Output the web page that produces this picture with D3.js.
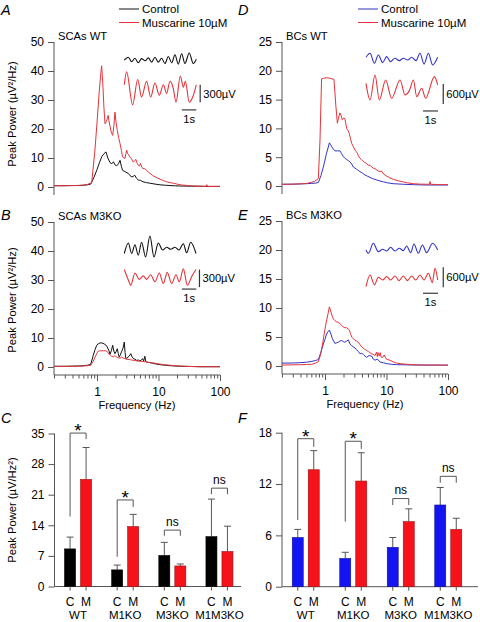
<!DOCTYPE html>
<html><head><meta charset="utf-8">
<script src="https://cdn.jsdelivr.net/npm/d3@7"></script>
<style>body{margin:0;background:#fff}svg{display:block}</style>
</head><body><svg id="c" width="480" height="622"></svg>
<script>
// ---------------- DATA ----------------
const freqDomain = [0.2, 100];
const freqMajorTicks = [1, 10, 100];
const freqMinorTicks = [0.2,0.3,0.4,0.5,0.6,0.7,0.8,0.9,2,3,4,5,6,7,8,9,20,30,40,50,60,70,80,90];
const scaPowerTicks = [0, 10, 20, 30, 40, 50];
const bcPowerTicks = [0, 5, 10, 15, 20, 25];

// [frequency Hz, peak power µV²/Hz]
const scaWTControl = [[0.2,0.45],[0.3,0.45],[0.4,0.5],[0.5,0.5],[0.6,0.6],[0.7,0.75],[0.79,1.0],[0.9,3.5],[1.0,6],[1.1,8.5],[1.2,10.5],[1.3,11.5],[1.4,12.1],[1.5,10],[1.63,8.4],[1.74,8.0],[1.85,8.7],[1.97,7.6],[2.09,7.3],[2.23,8.0],[2.37,9.2],[2.5,7],[2.6,5.8],[2.85,5.3],[3.2,4.7],[3.4,4.2],[3.6,3.5],[3.85,3.6],[4.1,4.1],[4.4,3.0],[4.7,2.4],[5.1,2.3],[5.6,1.8],[6.4,1.5],[7.3,1.3],[8.8,1.0],[10.6,0.75],[13,0.6],[15.4,0.5],[19,0.4],[22,0.35],[30,0.3],[47,0.25],[70,0.2],[100,0.2]];
const scaWTMuscarine = [[0.2,0.45],[0.3,0.45],[0.4,0.5],[0.5,0.55],[0.6,0.65],[0.7,0.9],[0.82,1.5],[0.92,12],[1.0,22],[1.08,32],[1.14,38],[1.19,41.8],[1.24,36],[1.3,27],[1.35,21.8],[1.41,22.5],[1.47,23.5],[1.52,24.7],[1.56,23],[1.63,20.9],[1.7,19],[1.8,17.8],[1.88,21],[1.96,25.8],[2.05,22],[2.14,19.5],[2.25,17],[2.37,15],[2.5,12.5],[2.6,10.4],[2.85,9.8],[2.95,11.5],[3.05,12.7],[3.15,11.5],[3.3,11],[3.45,10.2],[3.65,9.8],[3.8,8.8],[3.98,8.7],[4.15,9.2],[4.3,9.5],[4.5,8.2],[4.7,7.5],[4.9,7.2],[5.1,8.1],[5.35,6.8],[5.6,6.4],[6.0,6.3],[6.4,5.8],[6.9,5.0],[7.3,4.7],[8.0,4.0],[8.8,3.5],[9.6,3.1],[10.6,2.7],[12,2.2],[13.6,1.8],[15.5,1.5],[17.5,1.3],[20,1.0],[23.8,0.7],[30,0.5],[36.4,0.35],[50,0.25],[60,0.2],[61,0.8],[62,0.2],[80,0.2],[100,0.2]];
const scaKOControl = [[0.2,0.25],[0.3,0.25],[0.4,0.3],[0.5,0.35],[0.6,0.45],[0.7,0.6],[0.79,0.9],[0.87,4],[0.93,6],[0.99,7.5],[1.05,8.0],[1.12,8.3],[1.2,8.3],[1.3,8.0],[1.39,7.6],[1.47,6.9],[1.55,5.8],[1.63,4.4],[1.72,5.8],[1.8,7.5],[1.88,5.5],[1.96,4.6],[2.05,5.4],[2.14,6.3],[2.22,4.6],[2.3,3.4],[2.4,4.2],[2.5,5.2],[2.65,6.5],[2.78,8.6],[2.86,5],[2.95,2.9],[3.05,3.0],[3.2,3.4],[3.35,3.8],[3.55,4.6],[3.7,3.6],[3.9,2.9],[4.15,2.7],[4.4,2.3],[4.7,2.4],[5.0,2.1],[5.25,2.3],[5.5,2.9],[5.75,2.1],[6.0,3.7],[6.2,2.0],[6.4,1.7],[6.9,1.6],[7.3,1.5],[8.0,1.3],[8.8,1.1],[10.6,0.8],[13,0.6],[15.4,0.45],[22,0.25],[30,0.2],[47,0.1],[100,0.1]];
const scaKOMuscarine = [[0.2,0.2],[0.3,0.2],[0.4,0.25],[0.5,0.3],[0.6,0.35],[0.7,0.45],[0.79,0.6],[0.86,1.8],[0.93,3.4],[1.0,4.8],[1.05,5.5],[1.15,5.6],[1.27,5.6],[1.35,5.6],[1.43,5.5],[1.5,5.0],[1.58,4.4],[1.65,4.0],[1.73,3.7],[1.85,3.5],[1.96,3.9],[2.07,3.5],[2.2,3.2],[2.35,3.0],[2.5,3.4],[2.65,3.1],[2.85,2.9],[3.0,2.7],[3.2,2.6],[3.5,2.5],[3.9,2.3],[4.4,2.1],[5.0,2.0],[5.6,1.9],[6.4,1.7],[7.3,1.5],[8.2,1.4],[9.3,1.2],[10.6,1.0],[12.5,0.8],[15.4,0.6],[18,0.45],[22,0.35],[30,0.2],[47,0.1],[100,0.1]];
const bcWTControl = [[0.2,0.3],[0.3,0.32],[0.4,0.35],[0.5,0.4],[0.6,0.45],[0.7,0.5],[0.78,0.6],[0.86,1.8],[0.94,3.3],[1.0,4.5],[1.06,5.7],[1.12,6.6],[1.18,7.5],[1.23,7.2],[1.29,6.8],[1.37,6.4],[1.45,6.1],[1.6,6.1],[1.75,6.1],[1.87,5.6],[1.99,5.1],[2.12,4.8],[2.25,4.6],[2.4,4.4],[2.55,4.2],[2.72,3.8],[2.89,3.3],[3.08,3.1],[3.27,2.9],[3.48,2.7],[3.71,2.5],[4.1,2.2],[4.48,1.9],[4.9,1.7],[5.4,1.5],[5.9,1.3],[6.5,1.15],[7.1,1.0],[7.84,0.87],[8.9,0.72],[10.1,0.58],[11.4,0.48],[12.9,0.4],[15.5,0.35],[18.8,0.3],[27.3,0.23],[45,0.17],[100,0.17]];
const bcWTMuscarine = [[0.2,0.3],[0.3,0.32],[0.4,0.38],[0.5,0.45],[0.57,0.58],[0.68,0.8],[0.78,1.3],[0.83,8],[0.88,18.6],[0.95,18.7],[1.06,18.8],[1.2,18.7],[1.3,18.6],[1.4,18.5],[1.5,14],[1.59,10.9],[1.67,12],[1.75,12.7],[1.83,12.2],[1.91,11.5],[2.01,11.8],[2.11,11.7],[2.18,10.8],[2.25,10],[2.37,9.6],[2.49,9.1],[2.6,8.2],[2.72,7.4],[2.9,6.8],[3.08,6.2],[3.22,6.0],[3.36,5.7],[3.5,5.2],[3.71,4.8],[3.9,4.6],[4.1,4.4],[4.4,4.1],[4.76,3.9],[5.05,3.6],[5.4,3.6],[5.75,3.3],[6.1,3.1],[6.5,3.0],[6.93,2.8],[7.35,2.6],[7.84,2.5],[8.3,2.6],[8.9,2.1],[10.1,1.7],[11.4,1.4],[12.9,1.15],[15.5,0.9],[18.8,0.7],[22,0.55],[27.3,0.4],[36,0.32],[50,0.3],[51,0.8],[52,0.3],[70,0.25],[100,0.23]];
const bcKOControl = [[0.2,0.5],[0.3,0.52],[0.39,0.57],[0.5,0.65],[0.61,0.8],[0.7,0.95],[0.78,1.1],[0.86,2.4],[0.94,3.8],[1.0,4.6],[1.06,5.5],[1.12,5.9],[1.18,6.2],[1.25,5.5],[1.32,4.7],[1.45,3.9],[1.55,4.0],[1.65,4.1],[1.75,4.3],[1.87,4.4],[1.99,4.2],[2.11,4.1],[2.25,4.3],[2.4,4.5],[2.55,3.8],[2.72,3.5],[2.89,3.3],[3.08,3.1],[3.27,2.8],[3.48,2.5],[3.71,2.1],[3.95,2.2],[4.2,2.0],[4.48,1.7],[4.76,1.5],[5.2,1.8],[5.74,1.7],[6.1,1.2],[6.5,1.0],[7.1,1.2],[7.84,0.7],[8.9,0.55],[10.1,0.4],[12,0.3],[14.6,0.23],[20,0.2],[27.3,0.17],[50,0.15],[100,0.15]];
const bcKOMuscarine = [[0.2,0.17],[0.3,0.2],[0.4,0.22],[0.5,0.26],[0.61,0.3],[0.7,0.5],[0.78,0.75],[0.85,2.0],[0.92,4.0],[0.99,6.1],[1.05,7.6],[1.12,9.0],[1.18,10.2],[1.25,9.3],[1.31,8.6],[1.37,8.1],[1.46,7.8],[1.55,7.6],[1.65,7.5],[1.75,7.3],[1.87,7.0],[1.99,6.7],[2.11,6.6],[2.25,6.6],[2.37,6.4],[2.49,6.2],[2.6,5.6],[2.72,5.0],[2.9,4.7],[3.08,4.4],[3.27,4.3],[3.48,4.1],[3.7,3.7],[3.95,3.3],[4.2,3.1],[4.48,2.8],[4.76,2.7],[5.07,2.5],[5.4,2.3],[5.74,2.1],[6.1,2.0],[6.5,1.8],[6.9,2.4],[7.1,1.6],[7.3,2.3],[7.64,1.7],[7.9,2.3],[8.2,1.5],[8.67,1.5],[9.2,1.9],[9.82,1.26],[10.5,1.1],[11.4,1.0],[12.9,0.7],[14.6,0.5],[17.5,0.38],[21.3,0.3],[30,0.2],[45,0.17],[100,0.15]];

// example traces: [time s, µV]
const scaWTTraceControl = [[0,0],[0.28,48],[0.51,-30],[0.74,30],[0.97,-48],[1.2,24],[1.44,-12],[1.67,36],[1.9,-36],[2.13,48],[2.36,-36],[2.59,30],[2.82,-60],[3.06,60],[3.29,-48],[3.52,90],[3.75,-72],[3.98,108],[4.21,-60],[4.51,120],[4.79,-60],[5.0,12]];
const scaWTTraceMusc = [[0,60],[0.16,281],[0.58,-283],[0.93,150],[1.2,-150],[1.55,120],[1.83,-150],[2.13,90],[2.43,-120],[2.71,60],[2.94,-90],[3.17,120],[3.4,0],[3.59,-240],[3.89,210],[4.1,18],[4.24,120],[4.51,-240],[4.75,-150],[5.0,60]];
const scaKOTraceControl = [[0,-60],[0.28,120],[0.51,-60],[0.74,90],[0.97,-90],[1.2,132],[1.48,-120],[1.78,240],[2.06,-120],[2.36,120],[2.66,0],[2.94,48],[3.22,12],[3.52,48],[3.8,0],[4.1,108],[4.33,-48],[4.61,132],[4.98,-60]];
const scaKOTraceMusc = [[0,150],[0.28,-30],[0.45,-120],[0.74,90],[1.04,-18],[1.32,42],[1.55,-18],[1.83,60],[2.13,-60],[2.43,90],[2.71,-90],[2.98,102],[3.29,-90],[3.59,60],[3.82,-60],[4.1,162],[4.38,-120],[4.68,30],[4.98,150]];
const bcWTTraceControl = [[0,30],[0.27,150],[0.56,-150],[0.82,100],[1.11,-130],[1.38,50],[1.64,-100],[1.93,0],[2.22,-70],[2.49,0],[2.78,-50],[3.04,30],[3.33,-70],[3.6,150],[3.87,-170],[4.16,150],[4.44,-200],[4.78,30]];
const bcWTTraceMusc = [[0,150],[0.27,-350],[0.6,400],[0.89,-350],[1.31,250],[1.71,-300],[2.27,250],[2.6,-200],[2.89,-70],[3.16,250],[3.38,-250],[3.71,0],[3.98,-300],[4.56,350],[4.78,100]];
const bcKOTraceControl = [[0,-20],[0.16,-120],[0.49,180],[0.82,-70],[1.11,0],[1.38,-50],[1.64,60],[1.93,-50],[2.22,30],[2.49,-40],[2.71,100],[2.98,-100],[3.2,160],[3.49,-120],[3.76,130],[4.04,-100],[4.44,180],[4.78,-20]];
const bcKOTraceMusc = [[0,-250],[0.27,100],[0.56,-200],[0.82,30],[1.11,-50],[1.38,50],[1.64,-50],[1.93,70],[2.2,-70],[2.49,70],[2.76,-70],[3.04,70],[3.31,-50],[3.6,100],[3.87,-50],[4.16,150],[4.42,-130],[4.6,300],[4.78,-50]];

// bar data
const groups = ["WT", "M1KO", "M3KO", "M1M3KO"];
const conditions = ["C", "M"];
const scaPeakTicks = [0, 7, 14, 21, 28, 35];
const bcPeakTicks = [0, 6, 12, 18];
const scaControl = [8.6, 3.8, 7.1, 11.4];
const scaControlSEM = [2.7, 1.1, 3.0, 8.6];
const scaMuscarine = [24.5, 13.7, 4.7, 8.0];
const scaMuscarineSEM = [7.3, 2.8, 0.45, 5.8];
const bcControl = [5.75, 3.3, 4.6, 9.55];
const bcControlSEM = [0.95, 0.72, 1.15, 2.05];
const bcMuscarine = [13.67, 12.35, 7.6, 6.7];
const bcMuscarineSEM = [2.23, 3.31, 1.5, 1.3];
const significance = ["*", "*", "ns", "ns"];
// comparison brackets (value units): top, left leg end, right leg end
const scaBracketTop = [35.1, 19.8, 12.9, 22.5];
const scaBracketLeft = [16, 6.8, 11.6, 21.1];
const scaBracketRight = [33.7, 18.2, 11.6, 21.1];
const bcBracketTop = [17.3, 17.0, 10.3, 12.9];
const bcBracketLeft = [7.8, 7.6, 9.55, 12.15];
const bcBracketRight = [16.35, 16.1, 9.55, 12.15];

// ---------------- DRAWING ----------------
const FONT = '"Liberation Sans", Arial, Helvetica, sans-serif';
const AX = "#555";
const LINE_RED = "#e5333a", LINE_BLUE = "#3333c4", LINE_BLACK = "#111";
const BAR_RED = "#f5121b", BAR_BLUE = "#1414f0", BAR_BLACK = "#000";
const svg = d3.select("#c").attr("font-family", FONT);

function txt(x, y, s, opt = {}) {
  return svg.append("text").attr("x", x).attr("y", y).text(s)
    .attr("font-size", opt.size || 12).attr("text-anchor", opt.anchor || "start")
    .attr("font-style", opt.style || null).attr("fill", "#000");
}
function yTitle(x, y, s) {
  svg.append("text").attr("transform", `translate(${x},${y}) rotate(-90)`)
    .attr("text-anchor", "middle").attr("font-size", 11.2).text(s);
}

function spectrum(o) {
  const x = d3.scaleLog().domain(freqDomain).range(o.xr);
  const y = d3.scaleLinear().domain([0, o.ymax]).range(o.yr);
  const g = svg.append("g");
  const gy = g.append("g").attr("transform", `translate(${o.xr[0]},0)`)
    .call(d3.axisLeft(y).tickValues(o.ticks).tickSize(6).tickPadding(4));
  gy.select(".domain").remove();
  gy.attr("font-family", FONT).attr("font-size", 12);
  gy.selectAll(".tick line").attr("stroke", AX);
  gy.selectAll(".tick text").attr("fill", "#000");
  const base = y(0) + 8;
  g.append("line").attr("x1", o.xr[0]).attr("x2", o.xr[0])
    .attr("y1", y(o.ymax)).attr("y2", base).attr("stroke", AX);
  if (o.xaxis) {
    const gx = g.append("g").attr("transform", `translate(0,${base})`)
      .call(d3.axisBottom(x).tickValues(freqMajorTicks).tickFormat(d3.format("d")).tickSize(6).tickPadding(6));
    gx.attr("font-family", FONT).attr("font-size", 12);
    gx.select(".domain").remove();
    gx.selectAll(".tick line").attr("stroke", AX);
    gx.selectAll(".tick text").attr("fill", "#000");
    const gm = g.append("g").attr("transform", `translate(0,${base})`)
      .call(d3.axisBottom(x).tickValues(freqMinorTicks).tickFormat("").tickSize(3.5));
    gm.select(".domain").remove();
    gm.selectAll(".tick line").attr("stroke", AX);
    g.append("line").attr("x1", o.xr[0]).attr("x2", o.xr[1]).attr("y1", base).attr("y2", base).attr("stroke", AX);
    g.append("text").attr("x", (o.xr[0] + o.xr[1]) / 2).attr("y", base + 34)
      .attr("text-anchor", "middle").attr("font-size", 11.2).text("Frequency (Hz)");
  }
  const line = d3.line().x(d => x(d[0])).y(d => y(d[1]));
  o.series.forEach(s => {
    g.append("path").datum(s.data).attr("d", line).attr("fill", "none")
      .attr("stroke", s.color).attr("stroke-width", 1);
  });
  txt(o.xr[0] + 4, y(o.ymax) - 2, o.title, { size: 11.2 });
}

function inset(o) {
  const t = d3.scaleLinear().domain([0, 5]).range([o.x0, o.x0 + 5 * o.pxPerSec]);
  const line = (yy) => d3.line().curve(d3.curveMonotoneX).x(d => t(d[0])).y(d => yy(d[1]));
  o.traces.forEach(tr => {
    const yy = d3.scaleLinear().domain([0, o.barUV]).range([tr.base, tr.base - o.barPx]);
    svg.append("path").datum(tr.data).attr("d", line(yy)).attr("fill", "none")
      .attr("stroke", tr.color).attr("stroke-width", 1.1);
  });
  const yr = d3.scaleLinear().domain([0, o.barUV]).range([o.traces[1].base, o.traces[1].base - o.barPx]);
  const vx = t(o.vbarT);
  svg.append("line").attr("x1", vx).attr("x2", vx).attr("y1", yr(o.vbarLo)).attr("y2", yr(o.vbarLo + o.barUV))
    .attr("stroke", "#333").attr("stroke-width", 1.2);
  txt(vx + 3, (yr(o.vbarLo) + yr(o.vbarLo + o.barUV)) / 2 + 4, o.barUV + "µV", { size: 11.2 });
  const hy = yr(o.hbarV);
  svg.append("line").attr("x1", t(o.hbarT)).attr("x2", t(o.hbarT + 1)).attr("y1", hy).attr("y2", hy)
    .attr("stroke", "#555").attr("stroke-width", 1.4);
  txt((t(o.hbarT) + t(o.hbarT + 1)) / 2, hy + 13, "1s", { size: 11.2, anchor: "middle" });
}

function legend(x, y, c1) {
  svg.append("line").attr("x1", x).attr("x2", x + 20).attr("y1", y).attr("y2", y).attr("stroke", c1);
  txt(x + 23, y + 4, "Control", { size: 11.5 });
  svg.append("line").attr("x1", x).attr("x2", x + 20).attr("y1", y + 13.5).attr("y2", y + 13.5).attr("stroke", LINE_RED);
  txt(x + 23, y + 17.5, "Muscarine 10µM", { size: 11.5 });
}

function bars(o) {
  const y = d3.scaleLinear().domain([0, o.ymax]).range(o.yr);
  const x = d3.scaleBand().domain(groups).range(o.xr);
  const sub = d3.scaleBand().domain(conditions).range([-13.5, 13.5]).paddingInner(0.3125);
  const g = svg.append("g");
  const gy = g.append("g").attr("transform", `translate(${o.xr[0]},0)`)
    .call(d3.axisLeft(y).tickValues(o.ticks).tickSize(6).tickPadding(4));
  gy.select(".domain").remove();
  gy.attr("font-family", FONT).attr("font-size", 12);
  gy.selectAll(".tick line").attr("stroke", AX);
  gy.selectAll(".tick text").attr("fill", "#000");
  const base = y(0);
  g.append("line").attr("x1", o.xr[0]).attr("x2", o.xr[0]).attr("y1", y(o.ymax)).attr("y2", base).attr("stroke", AX);
  g.append("line").attr("x1", o.xr[0]).attr("x2", o.axEnd).attr("y1", base).attr("y2", base).attr("stroke", AX);
  const series = [
    { c: "C", v: o.ctrl, e: o.ctrlErr, col: o.ctrlColor },
    { c: "M", v: o.musc, e: o.muscErr, col: BAR_RED }
  ];
  groups.forEach((gn, i) => {
    const cx = x(gn) + x.bandwidth() / 2;
    const centers = {};
    series.forEach(s => {
      const bx = cx + sub(s.c), bw = sub.bandwidth(), mx = bx + bw / 2;
      centers[s.c] = mx;
      g.append("line").attr("x1", mx).attr("x2", mx).attr("y1", y(s.v[i])).attr("y2", y(s.v[i] + s.e[i]))
        .attr("stroke", "#555");
      g.append("line").attr("x1", mx - 3.5).attr("x2", mx + 3.5).attr("y1", y(s.v[i] + s.e[i])).attr("y2", y(s.v[i] + s.e[i]))
        .attr("stroke", "#555");
      g.append("rect").attr("x", bx).attr("width", bw).attr("y", y(s.v[i])).attr("height", base - y(s.v[i]))
        .attr("fill", s.col).attr("stroke", d3.color(s.col).darker(1.2)).attr("stroke-width", 0.6);
      g.append("line").attr("x1", mx).attr("x2", mx).attr("y1", base).attr("y2", base + 4).attr("stroke", AX);
      txt(mx, base + 19, s.c, { size: 12, anchor: "middle" });
    });
    txt(cx, base + 32, gn, { size: 11.5, anchor: "middle" });
    const lx = centers.C, rx = centers.M;
    g.append("path").attr("d", `M${lx},${y(o.brLeft[i])}V${y(o.brTop[i])}H${rx}V${y(o.brRight[i])}`)
      .attr("fill", "none").attr("stroke", "#555");
    if (significance[i] === "*") txt((lx + rx) / 2, y(o.brTop[i]) + 4, "*", { size: 19, anchor: "middle" });
    else txt((lx + rx) / 2, y(o.brTop[i]) - 4.5, "ns", { size: 12, anchor: "middle" });
  });
}

// Panel A
spectrum({ xr: [54, 220], yr: [187, 42], ymax: 50, ticks: scaPowerTicks, xaxis: false, title: "SCAs WT",
  series: [{ data: scaWTControl, color: LINE_BLACK }, { data: scaWTMuscarine, color: LINE_RED }] });
// Panel B
spectrum({ xr: [54, 220], yr: [367, 222], ymax: 50, ticks: scaPowerTicks, xaxis: true, title: "SCAs M3KO",
  series: [{ data: scaKOControl, color: LINE_BLACK }, { data: scaKOMuscarine, color: LINE_RED }] });
// Panel D
spectrum({ xr: [282, 448], yr: [186, 42], ymax: 25, ticks: bcPowerTicks, xaxis: false, title: "BCs WT",
  series: [{ data: bcWTControl, color: LINE_BLUE }, { data: bcWTMuscarine, color: LINE_RED }] });
// Panel E
spectrum({ xr: [282, 448], yr: [366, 221], ymax: 25, ticks: bcPowerTicks, xaxis: true, title: "BCs M3KO",
  series: [{ data: bcKOControl, color: LINE_BLUE }, { data: bcKOMuscarine, color: LINE_RED }] });

inset({ x0: 124.3, pxPerSec: 14.4, barUV: 300, barPx: 17.5, vbarT: 5.27, vbarLo: -240, hbarT: 4.0, hbarV: -370,
  traces: [{ data: scaWTTraceControl, base: 60, color: LINE_BLACK }, { data: scaWTTraceMusc, base: 88.3, color: LINE_RED }] });
inset({ x0: 124.3, pxPerSec: 14.4, barUV: 300, barPx: 17.5, vbarT: 5.22, vbarLo: -150, hbarT: 4.0, hbarV: -185,
  traces: [{ data: scaKOTraceControl, base: 250, color: LINE_BLACK }, { data: scaKOTraceMusc, base: 278.3, color: LINE_RED }] });
inset({ x0: 366, pxPerSec: 15, barUV: 600, barPx: 20, vbarT: 5.15, vbarLo: -470, hbarT: 3.8, hbarV: -680,
  traces: [{ data: bcWTTraceControl, base: 58.3, color: LINE_BLUE }, { data: bcWTTraceMusc, base: 88.3, color: LINE_RED }] });
inset({ x0: 366, pxPerSec: 15, barUV: 600, barPx: 20, vbarT: 5.15, vbarLo: -270, hbarT: 3.8, hbarV: -450,
  traces: [{ data: bcKOTraceControl, base: 249.3, color: LINE_BLUE }, { data: bcKOTraceMusc, base: 278.3, color: LINE_RED }] });

legend(119, 9, LINE_BLACK);
legend(358, 9, LINE_BLUE);

// Panel C & F
bars({ xr: [54.5, 243], axEnd: 241, yr: [586.5, 433.5], ymax: 35, ticks: scaPeakTicks,
  ctrl: scaControl, ctrlErr: scaControlSEM, ctrlColor: BAR_BLACK, musc: scaMuscarine, muscErr: scaMuscarineSEM,
  brTop: scaBracketTop, brLeft: scaBracketLeft, brRight: scaBracketRight });
bars({ xr: [282, 472], axEnd: 478, yr: [586.7, 432.7], ymax: 18, ticks: bcPeakTicks,
  ctrl: bcControl, ctrlErr: bcControlSEM, ctrlColor: BAR_BLUE, musc: bcMuscarine, muscErr: bcMuscarineSEM,
  brTop: bcBracketTop, brLeft: bcBracketLeft, brRight: bcBracketRight });

yTitle(16, 114, "Peak Power (µV²/Hz)");
yTitle(16, 300, "Peak Power (µV²/Hz)");
yTitle(16, 510, "Peak Power (µV/Hz²)");

// panel letters
[["A", 1, 15], ["B", 1, 219.5], ["C", 1, 423], ["D", 238, 15], ["E", 238, 219.5], ["F", 238, 423]]
  .forEach(([l, x, y]) => txt(x, y, l, { size: 14.5, style: "italic" }));
</script></body></html>
